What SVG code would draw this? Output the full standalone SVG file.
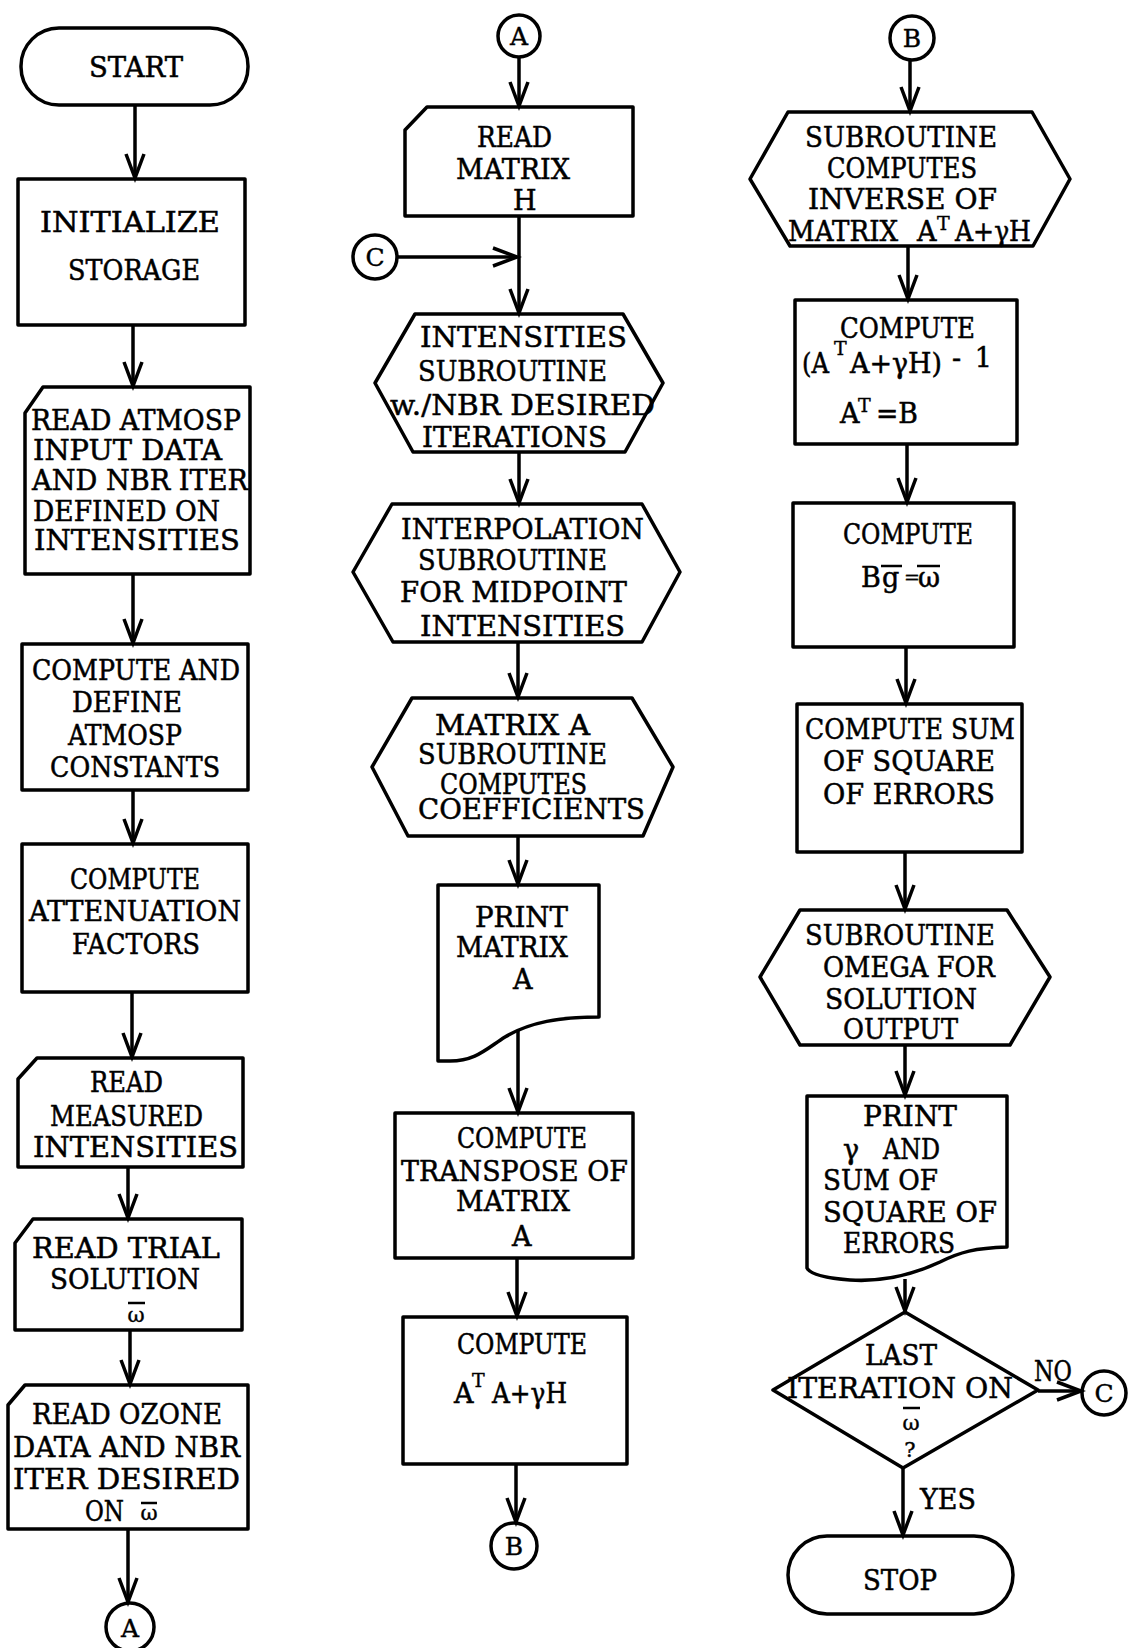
<svg xmlns="http://www.w3.org/2000/svg" width="1128" height="1648" viewBox="0 0 1128 1648">
<defs>
<style>
.shape{fill:none;stroke:#000;stroke-width:3.5;stroke-linejoin:round}
.line{fill:none;stroke:#000;stroke-width:3.5}
.t{font-family:"DejaVu Serif","Liberation Serif",serif;font-size:27px;fill:#000;stroke:#000;stroke-width:0.5}
.s{font-family:"DejaVu Serif","Liberation Serif",serif;font-size:19px;fill:#000;stroke:#000;stroke-width:0.4}
.w{font-family:"DejaVu Serif","Liberation Serif",serif;font-size:21px;fill:#000;stroke:#000;stroke-width:0.4;text-anchor:middle}
.c{font-family:"DejaVu Serif","Liberation Serif",serif;font-size:25px;fill:#000;stroke:#000;stroke-width:0.4;text-anchor:middle}
.bar{stroke:#000;stroke-width:2.5}
</style>
<marker id="arr" viewBox="-30 -15 36 30" markerUnits="userSpaceOnUse" markerWidth="36" markerHeight="30" refX="0" refY="0" orient="auto" overflow="visible">
<path d="M-24,-9 L0,0 L-24,9" fill="none" stroke="#000" stroke-width="3.5" stroke-linejoin="miter"/>
</marker>
</defs>
<rect width="1128" height="1648" fill="#fff"/>

<g id="connectors">
<line class="line" x1="135" y1="105" x2="135" y2="178" marker-end="url(#arr)"/>
<line class="line" x1="133" y1="325" x2="133" y2="386" marker-end="url(#arr)"/>
<line class="line" x1="133" y1="574" x2="133" y2="643" marker-end="url(#arr)"/>
<line class="line" x1="133" y1="790" x2="133" y2="843" marker-end="url(#arr)"/>
<line class="line" x1="132" y1="992" x2="132" y2="1057" marker-end="url(#arr)"/>
<line class="line" x1="128" y1="1167" x2="128" y2="1218" marker-end="url(#arr)"/>
<line class="line" x1="130" y1="1330" x2="130" y2="1384" marker-end="url(#arr)"/>
<line class="line" x1="128" y1="1529" x2="128" y2="1602" marker-end="url(#arr)"/>
<line class="line" x1="519" y1="57" x2="519" y2="106" marker-end="url(#arr)"/>
<line class="line" x1="519" y1="216" x2="519" y2="313" marker-end="url(#arr)"/>
<line class="line" x1="397" y1="257" x2="517" y2="257" marker-end="url(#arr)"/>
<line class="line" x1="519" y1="452" x2="519" y2="503" marker-end="url(#arr)"/>
<line class="line" x1="518" y1="642" x2="518" y2="697" marker-end="url(#arr)"/>
<line class="line" x1="518" y1="836" x2="518" y2="884" marker-end="url(#arr)"/>
<line class="line" x1="518" y1="1030" x2="518" y2="1112" marker-end="url(#arr)"/>
<line class="line" x1="517" y1="1258" x2="517" y2="1316" marker-end="url(#arr)"/>
<line class="line" x1="516" y1="1464" x2="516" y2="1522" marker-end="url(#arr)"/>
<line class="line" x1="910" y1="60" x2="910" y2="111" marker-end="url(#arr)"/>
<line class="line" x1="908" y1="246" x2="908" y2="299" marker-end="url(#arr)"/>
<line class="line" x1="907" y1="444" x2="907" y2="502" marker-end="url(#arr)"/>
<line class="line" x1="906" y1="647" x2="906" y2="703" marker-end="url(#arr)"/>
<line class="line" x1="905" y1="852" x2="905" y2="909" marker-end="url(#arr)"/>
<line class="line" x1="905" y1="1045" x2="905" y2="1095" marker-end="url(#arr)"/>
<line class="line" x1="905" y1="1279" x2="905" y2="1311" marker-end="url(#arr)"/>
<line class="line" x1="1038" y1="1391" x2="1081" y2="1391" marker-end="url(#arr)"/>
<line class="line" x1="903" y1="1468" x2="903" y2="1535" marker-end="url(#arr)"/>
<text class="t" x="1034" y="1381" textLength="38" lengthAdjust="spacingAndGlyphs">NO</text>
<text class="t" x="920" y="1509" textLength="56" lengthAdjust="spacingAndGlyphs">YES</text>
</g>

<g id="start">
<rect class="shape" x="21" y="28" width="227" height="77" rx="38"/>
<text class="t" x="89" y="77" textLength="94" lengthAdjust="spacingAndGlyphs">START</text>
</g>
<g id="init">
<rect class="shape" x="18" y="179" width="227" height="146"/>
<text class="t" x="40" y="232" textLength="180" lengthAdjust="spacingAndGlyphs">INITIALIZE</text>
<text class="t" x="68" y="280" textLength="132" lengthAdjust="spacingAndGlyphs">STORAGE</text>
</g>
<g id="readAtmosp">
<path class="shape" d="M25,413 L43,387 H250 V574 H25 Z"/>
<text class="t" x="31" y="430" textLength="210" lengthAdjust="spacingAndGlyphs">READ ATMOSP</text>
<text class="t" x="33" y="460" textLength="189" lengthAdjust="spacingAndGlyphs">INPUT DATA</text>
<text class="t" x="32" y="490" textLength="216" lengthAdjust="spacingAndGlyphs">AND NBR ITER</text>
<text class="t" x="33" y="521" textLength="187" lengthAdjust="spacingAndGlyphs">DEFINED ON</text>
<text class="t" x="34" y="550" textLength="206" lengthAdjust="spacingAndGlyphs">INTENSITIES</text>
</g>
<g id="computeDefine">
<rect class="shape" x="22" y="644" width="226" height="146"/>
<text class="t" x="32" y="680" textLength="208" lengthAdjust="spacingAndGlyphs">COMPUTE AND</text>
<text class="t" x="72" y="712" textLength="110" lengthAdjust="spacingAndGlyphs">DEFINE</text>
<text class="t" x="68" y="745" textLength="114" lengthAdjust="spacingAndGlyphs">ATMOSP</text>
<text class="t" x="50" y="777" textLength="170" lengthAdjust="spacingAndGlyphs">CONSTANTS</text>
</g>
<g id="attenuation">
<rect class="shape" x="22" y="844" width="226" height="148"/>
<text class="t" x="70" y="889" textLength="130" lengthAdjust="spacingAndGlyphs">COMPUTE</text>
<text class="t" x="29" y="921" textLength="212" lengthAdjust="spacingAndGlyphs">ATTENUATION</text>
<text class="t" x="72" y="954" textLength="128" lengthAdjust="spacingAndGlyphs">FACTORS</text>
</g>
<g id="readMeasured">
<path class="shape" d="M18,1079 L37,1058 H243 V1167 H18 Z"/>
<text class="t" x="90" y="1092" textLength="73" lengthAdjust="spacingAndGlyphs">READ</text>
<text class="t" x="50" y="1126" textLength="153" lengthAdjust="spacingAndGlyphs">MEASURED</text>
<text class="t" x="33" y="1157" textLength="205" lengthAdjust="spacingAndGlyphs">INTENSITIES</text>
</g>
<g id="readTrial">
<path class="shape" d="M15,1243 L33,1219 H242 V1330 H15 Z"/>
<text class="t" x="32" y="1258" textLength="188" lengthAdjust="spacingAndGlyphs">READ TRIAL</text>
<text class="t" x="50" y="1289" textLength="150" lengthAdjust="spacingAndGlyphs">SOLUTION</text>
<line class="bar" x1="128" y1="1303" x2="145" y2="1303"/>
<text class="w" x="136" y="1322">ω</text>
</g>
<g id="readOzone">
<path class="shape" d="M8,1405 L25,1385 H248 V1529 H8 Z"/>
<text class="t" x="32" y="1424" textLength="190" lengthAdjust="spacingAndGlyphs">READ OZONE</text>
<text class="t" x="13" y="1457" textLength="227" lengthAdjust="spacingAndGlyphs">DATA AND NBR</text>
<text class="t" x="13" y="1489" textLength="227" lengthAdjust="spacingAndGlyphs">ITER DESIRED</text>
<text class="t" x="85" y="1521" textLength="39" lengthAdjust="spacingAndGlyphs">ON</text>
<line class="bar" x1="141" y1="1503" x2="157" y2="1503"/>
<text class="w" x="149" y="1520">ω</text>
</g>
<g id="connA1">
<circle class="shape" cx="130" cy="1627" r="24"/>
<text class="c" x="130" y="1637">A</text>
</g>

<g id="connA2">
<circle class="shape" cx="519" cy="36" r="21"/>
<text class="c" x="519" y="45">A</text>
</g>
<g id="readH">
<path class="shape" d="M405,130 L427,107 H633 V216 H405 Z"/>
<text class="t" x="477" y="147" textLength="75" lengthAdjust="spacingAndGlyphs">READ</text>
<text class="t" x="456" y="179" textLength="114" lengthAdjust="spacingAndGlyphs">MATRIX</text>
<text class="t" x="513" y="210">H</text>
</g>
<g id="connC1">
<circle class="shape" cx="375" cy="257" r="22"/>
<text class="c" x="375" y="266">C</text>
</g>
<g id="intensities">
<path class="shape" d="M415,314 H623 L663,383 L625,452 H413 L375,383 Z"/>
<text class="t" x="420" y="347" textLength="207" lengthAdjust="spacingAndGlyphs">INTENSITIES</text>
<text class="t" x="418" y="381" textLength="189" lengthAdjust="spacingAndGlyphs">SUBROUTINE</text>
<text class="t" x="390" y="415" textLength="265" lengthAdjust="spacingAndGlyphs">w./NBR DESIRED</text>
<text class="t" x="422" y="447" textLength="185" lengthAdjust="spacingAndGlyphs">ITERATIONS</text>
</g>
<g id="interpolation">
<path class="shape" d="M392,504 H642 L680,572 L642,642 H393 L353,572 Z"/>
<text class="t" x="401" y="539" textLength="243" lengthAdjust="spacingAndGlyphs">INTERPOLATION</text>
<text class="t" x="418" y="570" textLength="189" lengthAdjust="spacingAndGlyphs">SUBROUTINE</text>
<text class="t" x="400" y="602" textLength="227" lengthAdjust="spacingAndGlyphs">FOR MIDPOINT</text>
<text class="t" x="420" y="636" textLength="205" lengthAdjust="spacingAndGlyphs">INTENSITIES</text>
</g>
<g id="matrixA">
<path class="shape" d="M412,698 H632 L673,767 L643,836 H408 L372,767 Z"/>
<text class="t" x="435" y="735" textLength="155" lengthAdjust="spacingAndGlyphs">MATRIX A</text>
<text class="t" x="418" y="764" textLength="189" lengthAdjust="spacingAndGlyphs">SUBROUTINE</text>
<text class="t" x="440" y="794" textLength="147" lengthAdjust="spacingAndGlyphs">COMPUTES</text>
<text class="t" x="418" y="819" textLength="227" lengthAdjust="spacingAndGlyphs">COEFFICIENTS</text>
</g>
<g id="printA">
<path class="shape" d="M438,885 H599 V1017 C560,1017 530,1022 505,1037 C485,1050 475,1061 450,1061 H438 Z"/>
<text class="t" x="475" y="927" textLength="93" lengthAdjust="spacingAndGlyphs">PRINT</text>
<text class="t" x="456" y="957" textLength="112" lengthAdjust="spacingAndGlyphs">MATRIX</text>
<text class="t" x="513" y="989">A</text>
</g>
<g id="transpose">
<rect class="shape" x="395" y="1113" width="238" height="145"/>
<text class="t" x="457" y="1148" textLength="130" lengthAdjust="spacingAndGlyphs">COMPUTE</text>
<text class="t" x="401" y="1181" textLength="227" lengthAdjust="spacingAndGlyphs">TRANSPOSE OF</text>
<text class="t" x="456" y="1211" textLength="114" lengthAdjust="spacingAndGlyphs">MATRIX</text>
<text class="t" x="512" y="1246">A</text>
</g>
<g id="computeATA">
<rect class="shape" x="403" y="1317" width="224" height="147"/>
<text class="t" x="457" y="1354" textLength="130" lengthAdjust="spacingAndGlyphs">COMPUTE</text>
<text class="t" x="454" y="1403">A</text>
<text class="s" x="472" y="1387">T</text>
<text class="t" x="492" y="1403" textLength="75" lengthAdjust="spacingAndGlyphs">A+γH</text>
</g>
<g id="connB1">
<circle class="shape" cx="514" cy="1546" r="23"/>
<text class="c" x="514" y="1555">B</text>
</g>

<g id="connB2">
<circle class="shape" cx="912" cy="38" r="22"/>
<text class="c" x="912" y="47">B</text>
</g>
<g id="inverse">
<path class="shape" d="M788,112 H1032 L1070,179 L1033,246 H790 L750,179 Z"/>
<text class="t" x="805" y="147" textLength="192" lengthAdjust="spacingAndGlyphs">SUBROUTINE</text>
<text class="t" x="827" y="178" textLength="150" lengthAdjust="spacingAndGlyphs">COMPUTES</text>
<text class="t" x="808" y="209" textLength="189" lengthAdjust="spacingAndGlyphs">INVERSE OF</text>
<text class="t" x="788" y="241" textLength="110" lengthAdjust="spacingAndGlyphs">MATRIX</text>
<text class="t" x="917" y="241">A</text>
<text class="s" x="937" y="230">T</text>
<text class="t" x="955" y="241" textLength="76" lengthAdjust="spacingAndGlyphs">A+γH</text>
</g>
<g id="computeInv">
<rect class="shape" x="795" y="300" width="222" height="144"/>
<text class="t" x="840" y="338" textLength="135" lengthAdjust="spacingAndGlyphs">COMPUTE</text>
<text class="t" x="802" y="373" textLength="27" lengthAdjust="spacingAndGlyphs">(A</text>
<text class="s" x="834" y="355">T</text>
<text class="t" x="850" y="373" textLength="92" lengthAdjust="spacingAndGlyphs">A+γH)</text>
<text class="t" x="952" y="367" textLength="40" lengthAdjust="spacing">-1</text>
<text class="t" x="840" y="423">A</text>
<text class="s" x="858" y="412">T</text>
<text class="t" x="876" y="423" textLength="42" lengthAdjust="spacingAndGlyphs">=B</text>
</g>
<g id="computeBg">
<rect class="shape" x="793" y="503" width="221" height="144"/>
<text class="t" x="843" y="544" textLength="130" lengthAdjust="spacingAndGlyphs">COMPUTE</text>
<text class="t" x="861" y="587">B</text>
<text class="t" x="882" y="587">g</text>
<line class="bar" x1="881" y1="566" x2="902" y2="566"/>
<text class="s" x="904" y="584">=</text>
<text class="t" x="918" y="587">ω</text>
<line class="bar" x1="917" y1="566" x2="940" y2="566"/>
</g>
<g id="sumSquares">
<rect class="shape" x="797" y="704" width="225" height="148"/>
<text class="t" x="805" y="739" textLength="210" lengthAdjust="spacingAndGlyphs">COMPUTE SUM</text>
<text class="t" x="823" y="771" textLength="172" lengthAdjust="spacingAndGlyphs">OF SQUARE</text>
<text class="t" x="823" y="804" textLength="172" lengthAdjust="spacingAndGlyphs">OF ERRORS</text>
</g>
<g id="omega">
<path class="shape" d="M800,910 H1007 L1050,977 L1010,1045 H800 L760,977 Z"/>
<text class="t" x="805" y="945" textLength="190" lengthAdjust="spacingAndGlyphs">SUBROUTINE</text>
<text class="t" x="823" y="977" textLength="172" lengthAdjust="spacingAndGlyphs">OMEGA FOR</text>
<text class="t" x="825" y="1009" textLength="152" lengthAdjust="spacingAndGlyphs">SOLUTION</text>
<text class="t" x="843" y="1039" textLength="115" lengthAdjust="spacingAndGlyphs">OUTPUT</text>
</g>
<g id="printGamma">
<path class="shape" d="M807,1096 H1007 V1247 C975,1248 960,1252 940,1262 C910,1276 880,1282 850,1280 C825,1278 810,1274 807,1268 Z"/>
<text class="t" x="863" y="1126" textLength="94" lengthAdjust="spacingAndGlyphs">PRINT</text>
<text class="t" x="843" y="1159">γ</text>
<text class="t" x="883" y="1159" textLength="57" lengthAdjust="spacingAndGlyphs">AND</text>
<text class="t" x="823" y="1190" textLength="115" lengthAdjust="spacingAndGlyphs">SUM OF</text>
<text class="t" x="823" y="1222" textLength="174" lengthAdjust="spacingAndGlyphs">SQUARE OF</text>
<text class="t" x="843" y="1253" textLength="112" lengthAdjust="spacingAndGlyphs">ERRORS</text>
</g>
<g id="decision">
<path class="shape" d="M905,1312 L1038,1390 L903,1468 L773,1390 Z"/>
<text class="t" x="865" y="1365" textLength="72" lengthAdjust="spacingAndGlyphs">LAST</text>
<text class="t" x="787" y="1398" textLength="226" lengthAdjust="spacingAndGlyphs">ITERATION ON</text>
<line class="bar" x1="903" y1="1408" x2="920" y2="1408"/>
<text class="w" x="911" y="1430">ω</text>
<text class="w" x="910" y="1457">?</text>
</g>
<g id="connC2">
<circle class="shape" cx="1104" cy="1393" r="22"/>
<text class="c" x="1104" y="1402">C</text>
</g>
<g id="stop">
<rect class="shape" x="788" y="1536" width="225" height="78" rx="39"/>
<text class="t" x="863" y="1590" textLength="74" lengthAdjust="spacingAndGlyphs">STOP</text>
</g>
</svg>
